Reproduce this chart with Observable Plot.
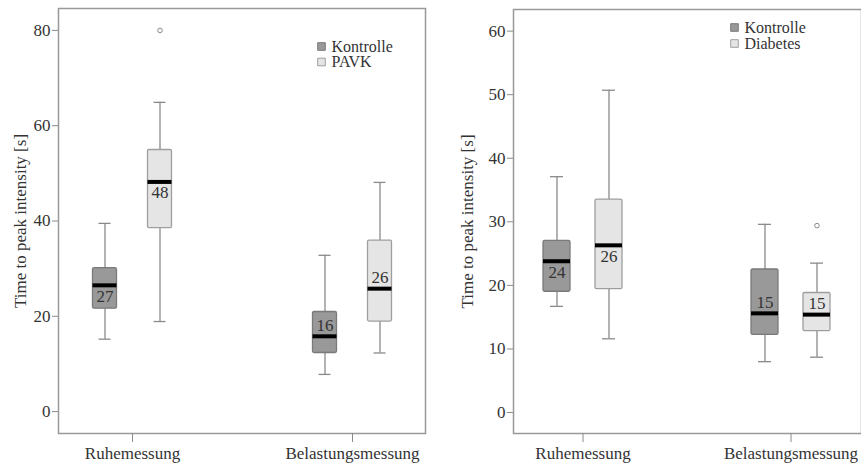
<!DOCTYPE html>
<html>
<head>
<meta charset="utf-8">
<script src="https://cdn.jsdelivr.net/npm/d3@7"></script>
<script src="https://cdn.jsdelivr.net/npm/@observablehq/plot@0.6"></script>
<style>
  html, body { margin: 0; padding: 0; background: #fff; }
  #row { display: flex; flex-direction: row; width: 861px; height: 464px; overflow: hidden; }
  #row svg { display: block; flex: none; }
  #row svg, #row svg text { font-family: "Liberation Serif", "Times New Roman", serif !important; font-size: 17px !important; }
  #row svg g.legend-text text { font-size: 16px !important; }
</style>
</head>
<body>
<div id="row"></div>
<script>
// ---------- data ----------
const groups = ["Ruhemessung", "Belastungsmessung"];
const yLabel = "Time to peak intensity [s]";

// left panel: Kontrolle vs PAVK (box order: Ruhe-K, Ruhe-P, Bel-K, Bel-P)
const leftSeries = ["Kontrolle", "PAVK"];
const leftBoxGroup = ["Ruhemessung", "Ruhemessung", "Belastungsmessung", "Belastungsmessung"];
const leftBoxSeries = ["Kontrolle", "PAVK", "Kontrolle", "PAVK"];
const leftMin = [15.2, 18.9, 7.8, 12.3];
const leftQ1 = [21.6, 38.5, 12.3, 18.9];
const leftMedian = [26.5, 48.2, 15.8, 25.8];
const leftQ3 = [30.1, 54.9, 20.9, 35.9];
const leftMax = [39.5, 64.9, 32.8, 48.1];
const leftLabel = ["27", "48", "16", "26"];
const leftOutGroup = ["Ruhemessung"];
const leftOutSeries = ["PAVK"];
const leftOutValue = [80.0];
const leftTicks = [0, 20, 40, 60, 80];

// right panel: Kontrolle vs Diabetes
const rightSeries = ["Kontrolle", "Diabetes"];
const rightBoxGroup = ["Ruhemessung", "Ruhemessung", "Belastungsmessung", "Belastungsmessung"];
const rightBoxSeries = ["Kontrolle", "Diabetes", "Kontrolle", "Diabetes"];
const rightMin = [16.7, 11.6, 8.0, 8.7];
const rightQ1 = [19.0, 19.4, 12.2, 12.8];
const rightMedian = [23.8, 26.3, 15.6, 15.4];
const rightQ3 = [27.0, 33.5, 22.5, 18.8];
const rightMax = [37.1, 50.7, 29.6, 23.5];
const rightLabel = ["24", "26", "15", "15"];
const rightOutGroup = ["Belastungsmessung"];
const rightOutSeries = ["Diabetes"];
const rightOutValue = [29.4];
const rightTicks = [0, 10, 20, 30, 40, 50, 60];

// ---------- styles ----------
const FILL = ["#999999", "#e5e5e5"];
const STROKE = ["#7a7a7a", "#9e9e9e"];
const LINE = "#8a8a8a";
const TEXT = "#333333";

function panel(cfg) {
  const rows = cfg.group.map((g, i) => ({
    group: g, series: cfg.seriesOf[i],
    min: cfg.min[i], q1: cfg.q1[i], median: cfg.median[i], q3: cfg.q3[i], max: cfg.max[i],
    label: cfg.label[i]
  }));
  const outs = cfg.outGroup.map((g, i) => ({group: g, series: cfg.outSeries[i], value: cfg.outValue[i]}));
  const marks = [];
  cfg.series.forEach((s, si) => {
    const dx = si === 0 ? -cfg.offset : cfg.offset;
    const r = rows.filter(d => d.series === s);
    const o = outs.filter(d => d.series === s);
    marks.push(
      Plot.ruleX(r, {x: "group", y1: "min", y2: "q1", dx, stroke: LINE, strokeWidth: 1.3}),
      Plot.ruleX(r, {x: "group", y1: "q3", y2: "max", dx, stroke: LINE, strokeWidth: 1.3}),
      Plot.tickY(r, {x: "group", y: "min", dx, insetLeft: cfg.cap, insetRight: cfg.cap, stroke: LINE, strokeWidth: 1.3}),
      Plot.tickY(r, {x: "group", y: "max", dx, insetLeft: cfg.cap, insetRight: cfg.cap, stroke: LINE, strokeWidth: 1.3}),
      Plot.barY(r, {x: "group", y1: "q1", y2: "q3", dx, fill: FILL[si], stroke: STROKE[si], strokeWidth: 1.3, rx: 1.5}),
      Plot.tickY(r, {x: "group", y: "median", dx, stroke: "#000", strokeWidth: 4}),
      Plot.text(r.filter(d => d.group === groups[0]), {x: "group", y: "median", text: "label", dx, dy: 11, fill: TEXT}),
      Plot.text(r.filter(d => d.group === groups[1]), {x: "group", y: "median", text: "label", dx, dy: -11, fill: TEXT}),
      Plot.dot(o, {x: "group", y: "value", dx, r: 2.3, stroke: LINE, strokeWidth: 1, fill: "none"})
    );
    // legend entry
    marks.push(
      Plot.dot([s], {frameAnchor: "top-left", dx: cfg.legX, dy: cfg.legY + si * cfg.legStep,
        symbol: "square", r: 4.3, fill: FILL[si], stroke: STROKE[si], strokeWidth: 1}),
      Plot.text([s], {frameAnchor: "top-left", dx: cfg.legX + 10, dy: cfg.legY + si * cfg.legStep,
        text: d => d, textAnchor: "start", lineAnchor: "middle", fill: TEXT, className: "legend-text"})
    );
  });
  marks.push(
    Plot.frame({stroke: "#999", strokeWidth: 1.5}),
    Plot.axisY({ticks: cfg.ticks, tickSize: 6, tickPadding: 2, stroke: LINE, fill: TEXT, label: null}),
    Plot.axisX({tickSize: 9, tickPadding: 4, stroke: LINE, fill: TEXT, label: null}),
    Plot.text([yLabel], {frameAnchor: "left", rotate: -90, dx: -cfg.labelOffset,
      textAnchor: "middle", lineAnchor: "middle", fill: TEXT})
  );
  return Plot.plot({
    width: cfg.width, height: 464,
    marginLeft: cfg.ml, marginRight: cfg.mr, marginTop: cfg.mt, marginBottom: 31,
    style: {background: "#fff", overflow: "visible"},
    x: {domain: groups, paddingInner: cfg.pi, paddingOuter: cfg.po, align: 0.5},
    y: {domain: cfg.ydomain},
    marks
  });
}

const row = document.getElementById("row");
row.appendChild(panel({
  width: 430, ml: 58, mr: 5, mt: 8, ydomain: [-4.6, 84.6],
  pi: 0.891, po: 0.278, offset: 27.5, cap: 6,
  series: leftSeries, group: leftBoxGroup, seriesOf: leftBoxSeries,
  min: leftMin, q1: leftQ1, median: leftMedian, q3: leftQ3, max: leftMax, label: leftLabel,
  outGroup: leftOutGroup, outSeries: leftOutSeries, outValue: leftOutValue,
  ticks: leftTicks, labelOffset: 38, legX: 263, legY: 38, legStep: 15.5
}));
row.appendChild(panel({
  width: 431, ml: 83, mr: 0, mt: 9, ydomain: [-3.3, 63.4],
  pi: 0.868, po: 0.2675, offset: 26, cap: 7,
  series: rightSeries, group: rightBoxGroup, seriesOf: rightBoxSeries,
  min: rightMin, q1: rightQ1, median: rightMedian, q3: rightQ3, max: rightMax, label: rightLabel,
  outGroup: rightOutGroup, outSeries: rightOutSeries, outValue: rightOutValue,
  ticks: rightTicks, labelOffset: 46, legX: 221, legY: 18, legStep: 16
}));
</script>
</body>
</html>
